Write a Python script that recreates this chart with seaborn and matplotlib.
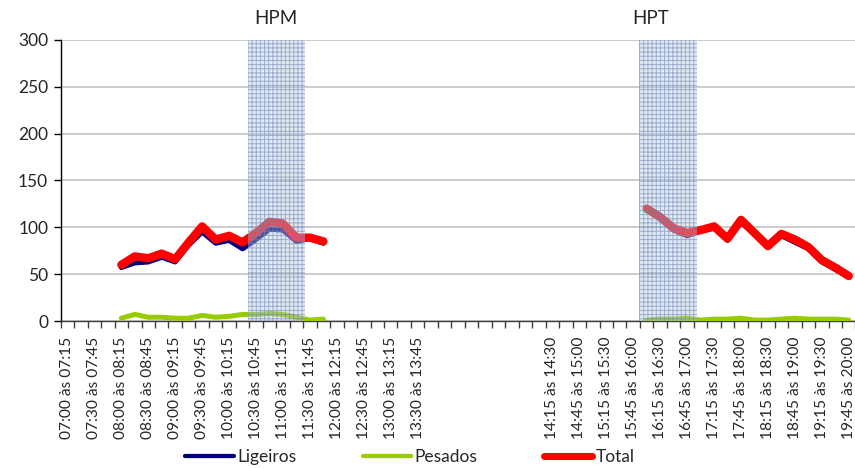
import numpy as np
import pandas as pd
import matplotlib
matplotlib.use("Agg")
import matplotlib.pyplot as plt
from matplotlib.lines import Line2D
import seaborn as sns

# Interval categories along the x axis (blank slots separate morning and afternoon)
manha = [
    "07:00 às 07:15", "07:15 às 07:30", "07:30 às 07:45", "07:45 às 08:00",
    "08:00 às 08:15", "08:15 às 08:30", "08:30 às 08:45", "08:45 às 09:00",
    "09:00 às 09:15", "09:15 às 09:30", "09:30 às 09:45", "09:45 às 10:00",
    "10:00 às 10:15", "10:15 às 10:30", "10:30 às 10:45", "10:45 às 11:00",
    "11:00 às 11:15", "11:15 às 11:30", "11:30 às 11:45", "11:45 às 12:00",
    "12:00 às 12:15", "12:15 às 12:30", "12:30 às 12:45", "12:45 às 13:00",
    "13:00 às 13:15", "13:15 às 13:30", "13:30 às 13:45", "13:45 às 14:00",
]
intervalo = [""] * 8
tarde = [
    "14:15 às 14:30", "14:30 às 14:45", "14:45 às 15:00", "15:00 às 15:15",
    "15:15 às 15:30", "15:30 às 15:45", "15:45 às 16:00", "16:00 às 16:15",
    "16:15 às 16:30", "16:30 às 16:45", "16:45 às 17:00", "17:00 às 17:15",
    "17:15 às 17:30", "17:30 às 17:45", "17:45 às 18:00", "18:00 às 18:15",
    "18:15 às 18:30", "18:30 às 18:45", "18:45 às 19:00", "19:00 às 19:15",
    "19:15 às 19:30", "19:30 às 19:45", "19:45 às 20:00",
]
categorias = manha + intervalo + tarde

# Counted periods: 08:00-12:00 and 16:00-20:00
periodo_manha = manha[4:20]
periodo_tarde = tarde[7:23]

ligeiros_manha = [57, 62, 63, 68, 63, 81, 95, 83, 86, 77, 87, 98, 97, 85, 88, 83]
pesados_manha = [3, 7, 4, 4, 3, 3, 6, 4, 5, 7, 7, 8, 7, 4, 1, 2]
total_manha = [60, 69, 67, 72, 66, 84, 101, 87, 91, 84, 94, 106, 104, 89, 89, 85]

ligeiros_tarde = [119, 109, 97, 91, 96, 99, 86, 105, 93, 79, 91, 84, 77, 63, 55, 47]
pesados_tarde = [1, 2, 2, 3, 1, 2, 2, 3, 1, 1, 2, 3, 2, 2, 2, 1]
total_tarde = [120, 111, 99, 94, 97, 101, 88, 108, 94, 80, 93, 87, 79, 65, 57, 48]

# Peak-hour windows (first and last interval inside each)
hpm = ("10:30 às 10:45", "11:15 às 11:30")
hpt = ("16:00 às 16:15", "16:45 às 17:00")

series = ["Ligeiros", "Pesados", "Total"]
cores = {"Ligeiros": "#000080", "Pesados": "#99CC00", "Total": "#FF0000"}
larguras = {"Ligeiros": 3.6, "Pesados": 3.6, "Total": 6.0}

pos = {c: i for i, c in enumerate(categorias) if c}

linhas = []
for periodo, cats, vals in [
    ("manhã", periodo_manha, [ligeiros_manha, pesados_manha, total_manha]),
    ("tarde", periodo_tarde, [ligeiros_tarde, pesados_tarde, total_tarde]),
]:
    for nome, v in zip(series, vals):
        for c, y in zip(cats, v):
            linhas.append({"periodo": periodo, "serie": nome, "x": pos[c], "y": y})
df = pd.DataFrame(linhas)

sns.set_theme(style="white")
plt.rcParams["font.family"] = ["Lato", "DejaVu Sans"]
plt.rcParams["hatch.linewidth"] = 0.7

fig = plt.figure(figsize=(8.55, 4.69), dpi=100)
ax = fig.add_axes([60.7 / 855, 1 - 321 / 469, (855.5 - 60.7) / 855, (321 - 40) / 469])

for nome in series:
    for periodo in ["manhã", "tarde"]:
        d = df[(df.serie == nome) & (df.periodo == periodo)]
        sns.lineplot(data=d, x="x", y="y", ax=ax, color=cores[nome],
                     linewidth=larguras[nome], solid_capstyle="round",
                     solid_joinstyle="round", legend=False, zorder=3)

# Shaded peak-hour bands: light tint plus a fine grid pattern over the lines
for ini, fim, extra in [(*hpm, 0.6), (*hpt, 0.72)]:
    ax.axvspan(pos[ini] - 0.6, pos[fim] + extra, facecolor="#b7c8e0",
               linewidth=0, alpha=0.4, zorder=4)
    ax.axvspan(pos[ini] - 0.6, pos[fim] + extra, facecolor="none",
               edgecolor=(0.42, 0.52, 0.70, 0.6), hatch="++++",
               linewidth=0, zorder=4)

ax.text((pos[hpm[0]] + pos[hpm[1]]) / 2, 1.075, "HPM",
        transform=ax.get_xaxis_transform(), ha="center", va="center", fontsize=13.5)
ax.text((pos[hpt[0]] + pos[hpt[1]]) / 2 - 1.2, 1.075, "HPT",
        transform=ax.get_xaxis_transform(), ha="center", va="center", fontsize=13.5)

ax.set_xlim(-0.5, len(categorias) - 0.5)
ax.set_ylim(0, 300)
ax.set_yticks(range(0, 301, 50))
ax.yaxis.grid(True, color="#c8c8c8", linewidth=1.3)
ax.set_axisbelow(True)
ax.tick_params(axis="y", labelsize=12.5, length=5, width=1, color="black",
               left=True, pad=4)

# Tick marks between categories, labels for every other category
ax.set_xticks(np.arange(-0.5, len(categorias), 1.0))
ax.set_xticklabels([])
ax.tick_params(axis="x", which="major", bottom=True, length=5, width=1, color="#404040")
idx = list(range(0, len(categorias), 2))
ax.set_xticks(idx, minor=True)
ax.set_xticklabels([categorias[i] for i in idx], minor=True, rotation=90,
                   fontsize=11.2, va="top", ha="center")
ax.tick_params(axis="x", which="minor", length=0, pad=11)

ax.set_xlabel("")
ax.set_ylabel("")
for s in ["top", "right"]:
    ax.spines[s].set_visible(False)
ax.spines["left"].set_color("black")
ax.spines["left"].set_linewidth(1.0)
ax.spines["bottom"].set_color("#404040")
ax.spines["bottom"].set_linewidth(1.0)

handles = [Line2D([0], [0], color=cores[n], linewidth=larguras[n] * 0.85,
                  solid_capstyle="round") for n in series]
fig.legend(handles, series, loc="center", bbox_to_anchor=(410 / 855, 1 - 457 / 469),
           ncol=3, frameon=False, fontsize=12.5, handlelength=2.8,
           handletextpad=0.2, columnspacing=3.8)

fig.savefig("out.png", dpi=100)
